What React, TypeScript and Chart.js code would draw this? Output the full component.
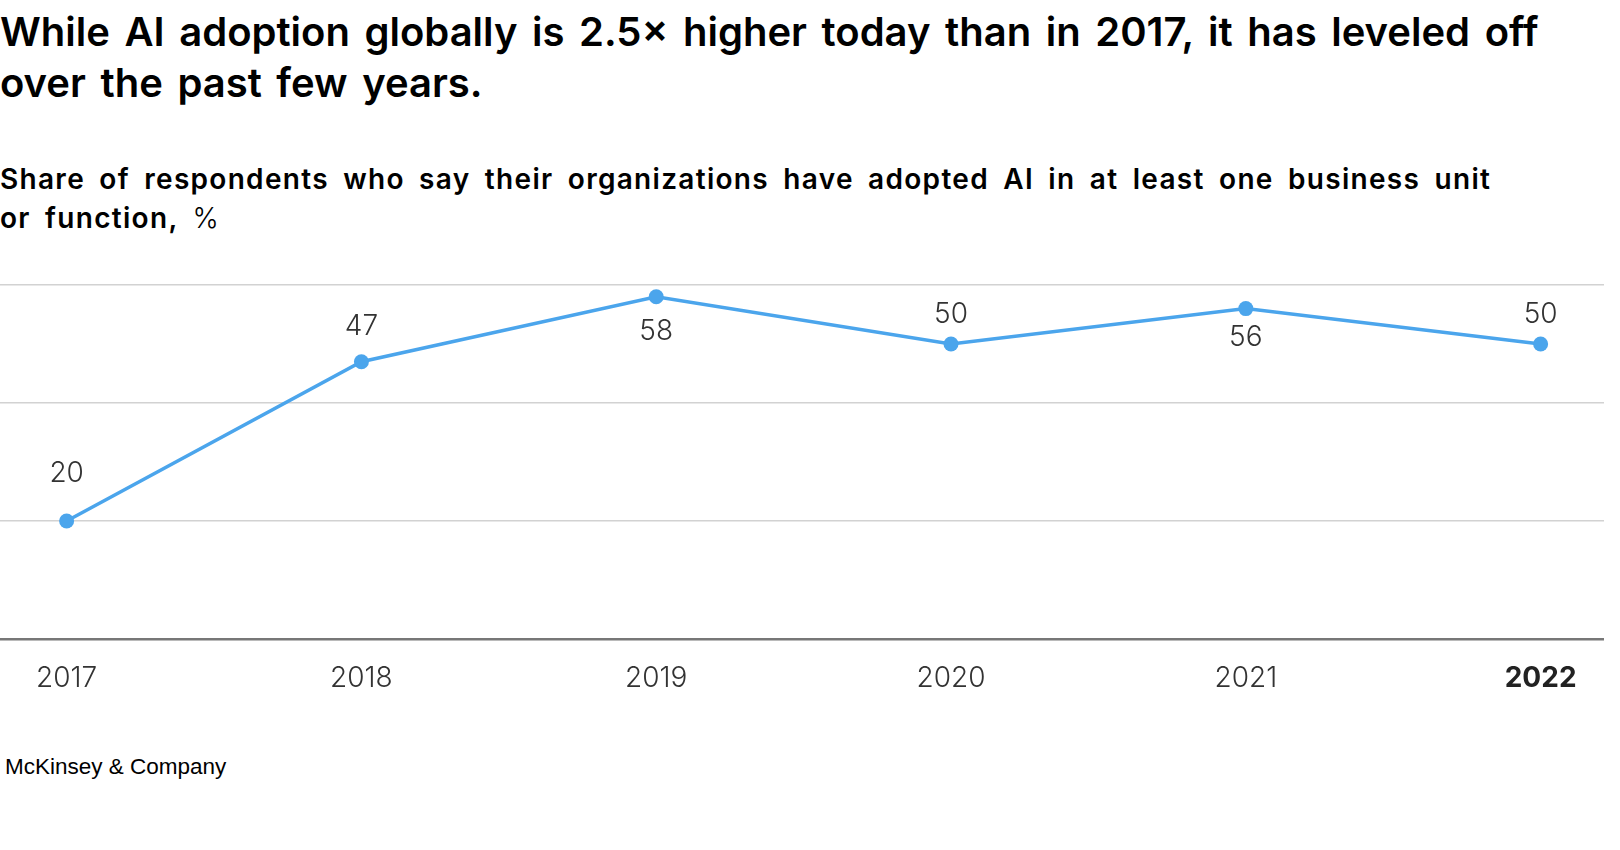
import React, { useEffect, useRef } from "react";
import { Chart, registerables } from "chart.js";

Chart.register(...registerables);

// ---- Data ----
const years = [2017, 2018, 2019, 2020, 2021, 2022];
const adoption = [20, 47, 58, 50, 56, 50];
const gridValues = [0, 20, 40, 60];
const highlightYear = 2022;

// label placement (vertical offset of each value label from its point, px)
const labelDy = [-47, -35, 35, -29, 29, -29];

const titleLines = [
  "While AI adoption globally is 2.5× higher today than in 2017, it has leveled off",
  "over the past few years.",
];
const subtitleLine1 =
  "Share of respondents who say their organizations have adopted AI in at least one business unit";
const subtitleLine2 = "or function,";
const subtitleUnit = "%";
const sourceText = "McKinsey & Company";

const LINE_COLOR = "#4BA5EC";
const TEXT_COLOR = "#333333";
const LABEL_FONT = "Inter";

const valueLabels = {
  id: "valueLabels",
  afterDatasetsDraw(chart: any) {
    const ctx = chart.ctx;
    const meta = chart.getDatasetMeta(0);
    ctx.save();
    ctx.font = `300 28px ${LABEL_FONT}`;
    ctx.fillStyle = TEXT_COLOR;
    ctx.textAlign = "center";
    ctx.textBaseline = "middle";
    meta.data.forEach((pt: any, i: number) => {
      ctx.fillText(String(adoption[i]), pt.x, pt.y + labelDy[i]);
    });
    ctx.restore();
  },
};

function LineChart() {
  const ref = useRef<HTMLCanvasElement | null>(null);
  useEffect(() => {
    if (!ref.current) return;
    const chart = new Chart(ref.current, {
      type: "line",
      data: {
        datasets: [
          {
            data: years.map((y, i) => ({ x: y, y: adoption[i] })),
            borderColor: LINE_COLOR,
            backgroundColor: LINE_COLOR,
            borderWidth: 3.5,
            pointRadius: 7.5,
            pointHoverRadius: 7.5,
            pointBackgroundColor: LINE_COLOR,
            pointBorderWidth: 0,
            tension: 0,
            clip: false as any,
          },
        ],
      },
      options: {
        animation: false,
        responsive: true,
        maintainAspectRatio: false,
        layout: { autoPadding: false, padding: { top: 35, right: 16, bottom: 1.5, left: 0 } },
        plugins: {
          legend: { display: false },
          tooltip: { enabled: false },
          title: { display: false },
        },
        scales: {
          x: {
            type: "linear",
            min: 2016.774,
            max: 2022.215,
            afterBuildTicks: (axis: any) => {
              axis.ticks = years.map((v) => ({ value: v }));
            },
            grid: { display: false, drawTicks: false },
            border: { display: false },
            ticks: {
              padding: 23,
              callback: (v: any) => String(v),
              color: (c: any) => (c.tick && c.tick.value === highlightYear ? "#222222" : TEXT_COLOR),
              font: (c: any) =>
                c.tick && c.tick.value === highlightYear
                  ? { family: LABEL_FONT, size: 28, weight: "bold" as any, lineHeight: 1.2 }
                  : { family: LABEL_FONT, size: 28, weight: 300 as any, lineHeight: 1.2 },
              maxRotation: 0,
              autoSkip: false,
            },
          },
          y: {
            min: 0,
            max: 60,
            afterBuildTicks: (axis: any) => {
              axis.ticks = gridValues.map((v) => ({ value: v }));
            },
            ticks: { display: false },
            border: { display: false },
            grid: {
              drawTicks: false,
              color: (c: any) => (c.tick && c.tick.value === 0 ? "#777777" : "#d2d2d2"),
              lineWidth: (c: any) => (c.tick && c.tick.value === 0 ? 2.5 : 1.5),
            },
          },
        },
      },
      plugins: [valueLabels],
    });
    return () => chart.destroy();
  }, []);
  return (
    <div style={{ position: "absolute", left: 0, top: 250, width: 1620, height: 470 }}>
      <canvas ref={ref} />
    </div>
  );
}

export default function App() {
  return (
    <div
      style={{
        position: "absolute",
        left: 0,
        top: 0,
        width: 1620,
        height: 850,
        background: "#ffffff",
        overflow: "hidden",
        fontFamily: "Inter, 'Noto Sans', sans-serif",
        color: "#000",
      }}
    >
      <div
        style={{
          position: "absolute",
          left: 0,
          top: 6,
          fontSize: 40,
          lineHeight: "51px",
          fontWeight: 600,
          wordSpacing: 4.5,
          whiteSpace: "nowrap",
        }}
      >
        {titleLines[0]}
        <br />
        {titleLines[1]}
      </div>
      <div
        style={{
          position: "absolute",
          left: 0,
          top: 160,
          fontSize: 28,
          lineHeight: "39px",
          fontWeight: 600,
          wordSpacing: 6,
          letterSpacing: 1.3,
          whiteSpace: "nowrap",
        }}
      >
        {subtitleLine1}
        <br />
        {subtitleLine2} <span style={{ fontWeight: 300 }}>{subtitleUnit}</span>
      </div>
      <LineChart />
      <div
        style={{
          position: "absolute",
          left: 5,
          top: 754,
          fontSize: 22.5,
          fontFamily: "'Liberation Sans', Arial, sans-serif",
          whiteSpace: "nowrap",
        }}
      >
        {sourceText}
      </div>
    </div>
  );
}
